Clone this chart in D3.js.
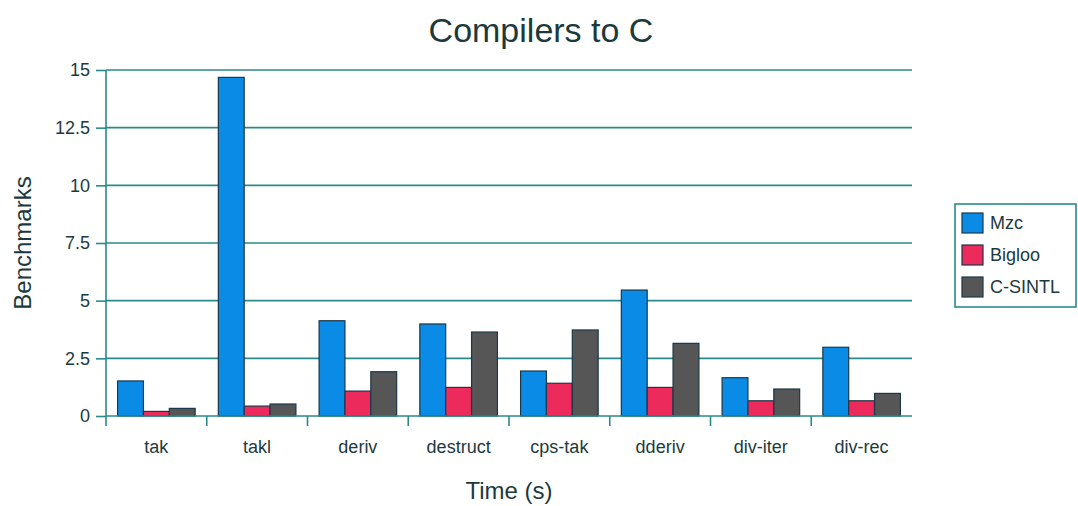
<!DOCTYPE html>
<html>
<head>
<meta charset="utf-8">
<script src="https://cdn.jsdelivr.net/npm/d3@7"></script>
<style>
  html, body { margin: 0; padding: 0; background: #fff; }
  svg { display: block; font-family: "Liberation Sans", Arial, sans-serif; }
</style>
</head>
<body>
<svg id="chart" width="1078" height="506"></svg>
<script>
// Benchmark names along the x axis
const categories = ["tak", "takl", "deriv", "destruct", "cps-tak", "dderiv", "div-iter", "div-rec"];
// Compiler series, in legend order
const seriesNames = ["Mzc", "Bigloo", "C-SINTL"];
const mzcValues    = [1.52, 14.68, 4.13, 3.99, 1.95, 5.46, 1.66, 2.98];
const biglooValues = [0.20, 0.43, 1.08, 1.24, 1.42, 1.24, 0.66, 0.66];
const csintlValues = [0.33, 0.52, 1.92, 3.64, 3.73, 3.15, 1.17, 0.98];
const yTicks = [0, 2.5, 5, 7.5, 10, 12.5, 15];
const colors = ["#0a8be6", "#ec2a5c", "#565656"];

const seriesValues = [mzcValues, biglooValues, csintlValues];
const teal = "#2a8a8a";
const textColor = "#1c3a3c";

const svg = d3.select("#chart");
const plot = { left: 106, right: 912, top: 70, bottom: 416 };

const x = d3.scaleBand().domain(categories).range([plot.left, plot.right]).paddingInner(0.23).paddingOuter(0.115);
const xs = d3.scaleBand().domain(seriesNames).range([0, x.bandwidth()]);
const y = d3.scaleLinear().domain([0, 15]).range([plot.bottom, plot.top]);

// Horizontal grid lines
svg.append("g").selectAll("line").data(yTicks.filter(d => d > 0)).join("line")
  .attr("x1", plot.left).attr("x2", plot.right)
  .attr("y1", d => y(d)).attr("y2", d => y(d))
  .attr("stroke", teal).attr("stroke-width", 1.6);

// Bars
const groups = svg.append("g").selectAll("g").data(categories).join("g")
  .attr("transform", d => `translate(${x(d)},0)`);
groups.selectAll("rect")
  .data((c, i) => seriesNames.map((s, k) => ({ s, v: seriesValues[k][i], k })))
  .join("rect")
  .attr("x", d => xs(d.s))
  .attr("width", xs.bandwidth())
  .attr("y", d => y(d.v))
  .attr("height", d => y(0) - y(d.v))
  .attr("fill", d => colors[d.k])
  .attr("stroke", "#1a3848").attr("stroke-width", 1.2);

// Y axis
const yAxis = svg.append("g").attr("transform", `translate(${plot.left},0)`)
  .call(d3.axisLeft(y).tickValues(yTicks).tickFormat(d => String(d)).tickSize(10).tickPadding(6));
yAxis.select(".domain").attr("stroke", teal).attr("stroke-width", 1.6)
  .attr("d", `M0,${plot.top}V${plot.bottom}`);
yAxis.selectAll(".tick line").attr("stroke", teal).attr("stroke-width", 1.6);
yAxis.selectAll(".tick text").attr("fill", textColor).style("font-size", "18px");

// X axis with ticks between categories
const xAxis = svg.append("g").attr("transform", `translate(0,${plot.bottom})`);
xAxis.append("line").attr("x1", plot.left).attr("x2", plot.right)
  .attr("stroke", teal).attr("stroke-width", 1.6);
const step = x.step();
const boundaries = categories.map((c, i) => x(c) - x.paddingInner() * step / 2);
xAxis.selectAll("line.tk").data(boundaries).join("line").attr("class", "tk")
  .attr("x1", d => d).attr("x2", d => d).attr("y1", 0).attr("y2", 10)
  .attr("stroke", teal).attr("stroke-width", 1.6);
xAxis.selectAll("text").data(categories).join("text")
  .attr("x", d => x(d) + x.bandwidth() / 2).attr("y", 37)
  .attr("text-anchor", "middle").attr("fill", textColor)
  .style("font-size", "18px").text(d => d);

// Titles
svg.append("text").attr("x", 541).attr("y", 42).attr("text-anchor", "middle")
  .attr("fill", textColor).style("font-size", "34px").text("Compilers to C");
svg.append("text").attr("x", 509).attr("y", 499).attr("text-anchor", "middle")
  .attr("fill", textColor).style("font-size", "24px").text("Time (s)");
svg.append("text").attr("transform", "translate(31,243) rotate(-90)").attr("text-anchor", "middle")
  .attr("fill", textColor).style("font-size", "24px").text("Benchmarks");

// Legend
const legend = svg.append("g");
legend.append("rect").attr("x", 955).attr("y", 204).attr("width", 121).attr("height", 103)
  .attr("fill", "#fff").attr("stroke", teal).attr("stroke-width", 1.6);
const items = legend.selectAll("g").data(seriesNames).join("g")
  .attr("transform", (d, i) => `translate(962,${213 + i * 32})`);
items.append("rect").attr("width", 21).attr("height", 20)
  .attr("fill", (d, i) => colors[i]).attr("stroke", "#1a3848").attr("stroke-width", 1.2);
items.append("text").attr("x", 28).attr("y", 16).attr("fill", textColor)
  .style("font-size", "18px").text(d => d);
</script>
</body>
</html>
